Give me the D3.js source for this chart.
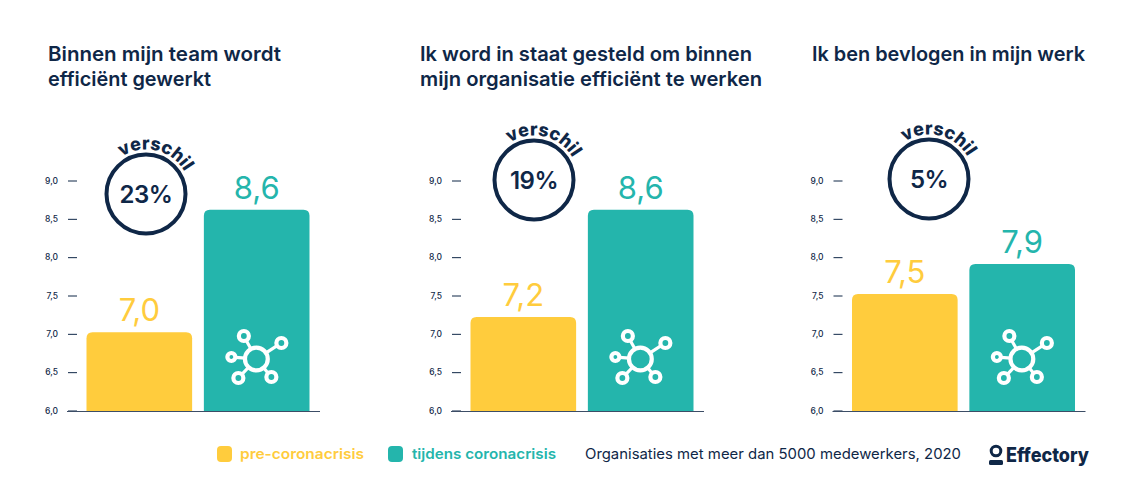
<!DOCTYPE html>
<html lang="nl">
<head>
<meta charset="utf-8">
<script src="https://d3js.org/d3.v7.min.js"></script>
<style>
  html, body { margin: 0; padding: 0; background: #fff; }
  svg { display: block; font-family: Inter, "Open Sans", sans-serif; }
</style>
</head>
<body>
<svg id="chart" width="1140" height="480"></svg>
<script>
// data
var titles = [
    ["Binnen mijn team wordt", "efficiënt gewerkt"],
    ["Ik word in staat gesteld om binnen", "mijn organisatie efficiënt te werken"],
    ["Ik ben bevlogen in mijn werk"]
];
var periods = ["pre-coronacrisis", "tijdens coronacrisis"];
var preValues = [7.02, 7.22, 7.52];
var duringValues = [8.62, 8.62, 7.91];
var differences = ["23%", "19%", "5%"];
var tickValues = [6, 6.5, 7, 7.5, 8, 8.5, 9];
var caption = "Organisaties met meer dan 5000 medewerkers, 2020";
var brand = "Effectory";

var navy = "#0f2747", yellow = "#ffcc3d", teal = "#24b5ac";
var comma = function (d) { return d.toFixed(1).replace(".", ","); };

// layout of the three panels
var panelX = [77, 461, 842.5];
var titleX = [48, 420, 812];
var titleW = [[233, 163], [332, 342], [273]];
var badgeX = [146, 534, 929];
var badgeY = [194, 180, 179];

var svg = d3.select("#chart");
var y = d3.scaleLinear().domain([6, 9]).range([410.5, 180.5]);

function topRounded(x0, w, yTop, yBase, r) {
    return "M" + x0 + "," + yBase + "V" + (yTop + r) + "Q" + x0 + "," + yTop + " " + (x0 + r) + "," + yTop +
        "H" + (x0 + w - r) + "Q" + (x0 + w) + "," + yTop + " " + (x0 + w) + "," + (yTop + r) + "V" + yBase + "Z";
}

function fit(sel, width) {
    sel.attr("textLength", width).attr("lengthAdjust", "spacingAndGlyphs");
}

titles.forEach(function (lines, p) {
    var g = svg.append("g").attr("transform", "translate(" + panelX[p] + ",0)");

    svg.selectAll(null).data(lines).enter().append("text")
        .attr("x", titleX[p])
        .attr("y", function (d, i) { return 61 + i * 25; })
        .attr("font-size", 20.2).attr("font-weight", 600).attr("fill", navy)
        .attr("textLength", function (d, i) { return titleW[p][i]; })
        .attr("lengthAdjust", "spacingAndGlyphs")
        .text(function (d) { return d; });

    var x = d3.scaleBand().domain(periods).range([9.5, 232.5]).paddingInner(0.1);

    var axis = d3.axisLeft(y).tickValues(tickValues).tickSize(9).tickPadding(10).tickFormat(comma);
    var ag = g.append("g").call(axis);
    ag.select(".domain").remove();
    ag.selectAll("line").attr("stroke", navy).attr("stroke-width", 1);
    ag.selectAll("text").attr("fill", navy).attr("font-size", 8.5).attr("font-weight", 500).attr("font-family", "Inter");

    var vals = [preValues[p], duringValues[p]];
    var colors = [yellow, teal];

    g.selectAll("path.bar").data(vals).enter().append("path")
        .attr("class", "bar")
        .attr("fill", function (d, i) { return colors[i]; })
        .attr("d", function (d, i) {
            return topRounded(x(periods[i]), x.bandwidth(), y(d), y(6) + 1, 6);
        });

    g.selectAll("text.val").data(vals).enter().append("text")
        .attr("class", "val")
        .attr("x", function (d, i) { return x(periods[i]) + x.bandwidth() / 2; })
        .attr("y", function (d) { return y(d) - 11; })
        .attr("text-anchor", "middle")
        .attr("font-size", 31).attr("font-weight", 400)
        .attr("fill", function (d, i) { return colors[i]; })
        .text(comma);

    // baseline
    g.append("line").attr("x1", -10).attr("x2", 243)
        .attr("y1", y(6) + 1).attr("y2", y(6) + 1)
        .attr("stroke", "#3c4d66").attr("stroke-width", 1);

    // virus icon on the teal bar
    var icon = g.append("g")
        .attr("transform", "translate(" + (x(periods[1]) + 52.5) + ",359)")
        .attr("fill", "none").attr("stroke", "#fff").attr("stroke-width", 4.2);
    var nodes = [[-12.5, -23, 5], [25, -16, 5], [-25, -2, 4], [-18, 19, 5], [15, 18, 5]];
    nodes.forEach(function (n) {
        var len = Math.hypot(n[0], n[1]);
        icon.append("line").attr("stroke-width", 3.2)
            .attr("x1", n[0] / len * 11).attr("y1", n[1] / len * 11)
            .attr("x2", n[0] - n[0] / len * n[2]).attr("y2", n[1] - n[1] / len * n[2]);
        icon.append("circle").attr("cx", n[0]).attr("cy", n[1]).attr("r", n[2]);
    });
    icon.append("circle").attr("r", 11.4).attr("stroke-width", 4.2);

    // difference badge
    var bx = badgeX[p], by = badgeY[p];
    svg.append("circle").attr("cx", bx).attr("cy", by).attr("r", 39.5)
        .attr("fill", "none").attr("stroke", navy).attr("stroke-width", 4);
    svg.append("text").attr("x", bx).attr("y", by + 8.5)
        .attr("text-anchor", "middle").attr("font-size", 24).attr("font-weight", 600)
        .attr("letter-spacing", -0.5).attr("fill", navy).text(differences[p]);

    var a0 = -33 * Math.PI / 180, a1 = 60 * Math.PI / 180, R = 44.5;
    svg.append("path").attr("id", "arc" + p).attr("fill", "none")
        .attr("d", "M" + (bx + R * Math.sin(a0)) + "," + (by - R * Math.cos(a0)) +
            "A" + R + "," + R + " 0 0 1 " + (bx + R * Math.sin(a1)) + "," + (by - R * Math.cos(a1)));
    svg.append("text").attr("font-size", 18).attr("font-weight", 800).attr("fill", navy)
        .append("textPath").attr("href", "#arc" + p).text("verschil");
});

// legend
var legendX = [217, 388], legendTextX = [240, 412], legendW = [124, 144];
periods.forEach(function (d, i) {
    svg.append("rect").attr("x", legendX[i]).attr("y", 446).attr("width", 15).attr("height", 16)
        .attr("rx", 4).attr("fill", [yellow, teal][i]);
    svg.append("text").attr("x", legendTextX[i]).attr("y", 459)
        .attr("font-size", 14.5).attr("font-weight", 600).attr("fill", [yellow, teal][i])
        .call(fit, legendW[i]).text(d);
});

svg.append("text").attr("x", 585).attr("y", 459)
    .attr("font-size", 14.5).attr("font-weight", 400).attr("fill", navy)
    .call(fit, 376).text(caption);

// logo
svg.append("circle").attr("cx", 996).attr("cy", 451).attr("r", 4.8)
    .attr("fill", "none").attr("stroke", navy).attr("stroke-width", 3);
svg.append("rect").attr("x", 989).attr("y", 460).attr("width", 14).attr("height", 5)
    .attr("rx", 1.5).attr("fill", navy);
svg.append("text").attr("x", 1006).attr("y", 462)
    .attr("font-size", 20).attr("font-weight", 800).attr("fill", navy)
    .call(fit, 83).text(brand);
</script>
</body>
</html>
